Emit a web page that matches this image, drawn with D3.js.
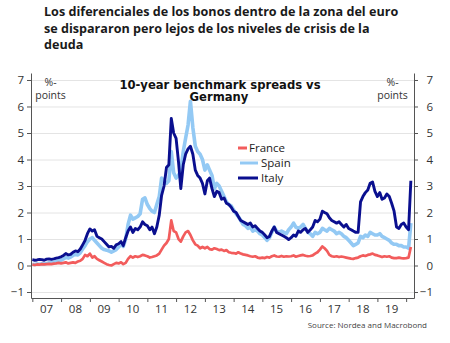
<!DOCTYPE html>
<html>
<head>
<meta charset="utf-8">
<script src="https://cdn.jsdelivr.net/npm/d3@7"></script>
<style>
  body { margin: 0; background: #fff; }
  svg { display: block; font-family: "Open Sans", sans-serif; }
</style>
</head>
<body>
<div id="chart"></div>
<script>
// monthly spreads vs Bunds, Jan 2007 - Mar 2020 (%-points)
var france = [
  0.03,0.02,0.04,0.03,0.05,0.04,0.05,0.06,0.05,0.07,0.08,0.10,
  0.08,0.10,0.12,0.08,0.10,0.12,0.10,0.15,0.18,0.25,0.40,0.35,
  0.45,0.30,0.35,0.25,0.20,0.15,0.10,0.05,0.02,0.00,0.05,0.10,
  0.08,0.12,0.05,0.10,0.25,0.35,0.30,0.35,0.32,0.35,0.40,0.38,
  0.35,0.30,0.32,0.35,0.38,0.45,0.60,0.75,0.85,1.00,1.70,1.30,
  1.25,1.00,0.90,1.10,1.25,1.30,1.15,0.95,0.80,0.75,0.65,0.70,
  0.65,0.70,0.62,0.60,0.65,0.62,0.58,0.60,0.55,0.58,0.50,0.48,
  0.47,0.45,0.50,0.45,0.42,0.40,0.38,0.35,0.33,0.35,0.30,0.28,
  0.30,0.28,0.32,0.30,0.35,0.38,0.34,0.33,0.36,0.33,0.35,0.34,
  0.35,0.38,0.33,0.36,0.38,0.40,0.37,0.35,0.36,0.38,0.45,0.50,
  0.60,0.72,0.65,0.55,0.40,0.35,0.33,0.35,0.32,0.34,0.32,0.30,
  0.28,0.26,0.25,0.28,0.30,0.35,0.38,0.36,0.40,0.42,0.45,0.40,
  0.38,0.35,0.32,0.35,0.33,0.35,0.30,0.28,0.28,0.30,0.28,0.27,
  0.28,0.30,0.70
];
var spain = [
  0.05,0.04,0.06,0.05,0.07,0.06,0.08,0.10,0.12,0.10,0.15,0.18,
  0.20,0.25,0.30,0.28,0.32,0.38,0.42,0.40,0.48,0.62,0.75,0.90,
  1.00,1.05,0.95,0.85,0.75,0.65,0.60,0.58,0.55,0.50,0.55,0.60,
  0.70,0.80,0.72,1.00,1.55,1.90,1.75,1.80,1.85,1.95,2.50,2.55,
  2.30,2.15,2.05,2.00,2.30,2.60,3.30,3.20,3.10,3.20,4.30,3.50,
  3.30,3.40,3.60,4.30,4.80,5.30,6.20,5.20,4.50,4.30,4.20,4.00,
  3.60,3.80,3.60,3.40,2.90,3.10,3.00,2.80,2.60,2.40,2.30,2.25,
  2.10,1.95,1.85,1.70,1.55,1.50,1.40,1.45,1.30,1.35,1.30,1.20,
  1.15,1.05,0.95,1.05,1.25,1.45,1.30,1.25,1.30,1.25,1.20,1.35,
  1.45,1.60,1.45,1.40,1.45,1.55,1.40,1.25,1.20,1.10,1.25,1.20,
  1.25,1.40,1.35,1.30,1.40,1.35,1.30,1.20,1.25,1.20,1.10,1.05,
  0.95,0.85,0.75,0.80,0.85,1.10,1.05,1.15,1.10,1.25,1.20,1.15,
  1.15,1.20,1.10,1.05,1.00,0.95,0.85,0.80,0.80,0.75,0.75,0.70,
  0.70,0.65,1.60
];
var italy = [
  0.22,0.20,0.21,0.23,0.22,0.20,0.24,0.25,0.23,0.25,0.28,0.30,
  0.33,0.38,0.45,0.40,0.42,0.50,0.55,0.52,0.62,0.78,0.95,1.20,
  1.38,1.30,1.35,1.10,1.05,1.00,0.90,0.80,0.70,0.72,0.65,0.78,
  0.82,0.90,0.75,1.05,1.30,1.45,1.25,1.40,1.35,1.45,1.65,1.55,
  1.50,1.35,1.45,1.20,1.45,1.90,2.65,3.00,3.70,3.80,5.55,5.00,
  4.80,3.90,2.90,3.80,4.20,4.40,4.50,4.20,3.60,3.40,3.30,3.10,
  2.70,3.20,3.30,2.90,2.60,2.80,2.75,2.50,2.55,2.35,2.30,2.20,
  2.05,2.00,1.85,1.70,1.65,1.60,1.55,1.60,1.45,1.50,1.40,1.30,
  1.25,1.15,1.05,1.10,1.30,1.45,1.25,1.20,1.15,1.10,1.05,0.98,
  1.05,1.15,1.10,1.30,1.25,1.35,1.40,1.25,1.35,1.45,1.70,1.65,
  1.75,2.05,2.00,1.95,1.80,1.70,1.65,1.60,1.65,1.55,1.45,1.55,
  1.40,1.35,1.30,1.25,1.25,2.40,2.60,2.75,2.85,3.10,3.15,2.80,
  2.60,2.75,2.50,2.55,2.70,2.60,2.35,2.05,1.45,1.40,1.55,1.60,
  1.45,1.35,3.20
];
var yTicks = [-1, 0, 1, 2, 3, 4, 5, 6, 7];
var yearLabels = ["07","08","09","10","11","12","13","14","15","16","17","18","19"];
var seriesColors = { France: "#f25c5c", Spain: "#93c9f4", Italy: "#0a0f8f" };
var seriesWidths = { France: 2.7, Spain: 3.6, Italy: 2.9 };

var width = 450,
  height = 343;

var months = d3.timeMonth.range(new Date(2007, 0, 1), new Date(2020, 3, 1));

var svg = d3.select("#chart")
  .append("svg")
  .attr("width", width)
  .attr("height", height);

var x = d3.scaleTime()
  .domain([new Date(2006, 11, 15), new Date(2020, 3, 10)])
  .range([31, 414]);

var y = d3.scaleLinear()
  .domain([-1.226, 7.264])
  .range([298, 73]);

// headline
var title = svg.append("text")
  .attr("x", 44)
  .attr("font-size", 12.6)
  .attr("font-weight", "bold")
  .attr("fill", "#1a1a1a");
["Los diferenciales de los bonos dentro de la zona del euro",
 "se dispararon pero lejos de los niveles de crisis de la",
 "deuda"].forEach(function(t, i) {
  title.append("tspan").attr("x", 44).attr("y", 16 + i * 16.5).text(t);
});

// grid
svg.append("g")
  .selectAll("line")
  .data(yTicks)
  .enter().append("line")
  .attr("x1", 31)
  .attr("x2", 414)
  .attr("y1", function(d) { return y(d) + 0.5; })
  .attr("y2", function(d) { return y(d) + 0.5; })
  .attr("stroke", "#e4e4e4")
  .attr("stroke-width", 1);

// axes
svg.append("g")
  .attr("transform", "translate(31,0)")
  .call(d3.axisLeft(y).tickValues(yTicks).tickSize(4).tickSizeOuter(0).tickPadding(3).tickFormat(d3.format("d")));
var rightAxis = svg.append("g")
  .attr("transform", "translate(414,0)")
  .call(d3.axisRight(y).tickValues(yTicks).tickSize(4).tickSizeOuter(0).tickPadding(3).tickFormat(d3.format("d")));
rightAxis.selectAll("text").attr("text-anchor", "end").attr("dx", 12);

var yearStarts = d3.range(2007, 2021).map(function(yr) { return new Date(yr, 0, 1); });
svg.append("g")
  .attr("transform", "translate(0,298)")
  .call(d3.axisBottom(x).tickValues(yearStarts).tickSize(4).tickSizeOuter(0).tickFormat(""));

svg.selectAll(".domain").attr("stroke", "#555");
svg.selectAll(".tick line").attr("stroke", "#555");
svg.selectAll(".tick text")
  .attr("font-family", "Open Sans, sans-serif")
  .attr("font-size", 11.5)
  .attr("fill", "#333");

svg.append("g")
  .selectAll("text")
  .data(yearLabels)
  .enter().append("text")
  .attr("x", function(d, i) { return x(new Date(2007 + i, 6, 1)); })
  .attr("y", 313)
  .attr("text-anchor", "middle")
  .attr("font-size", 11.5)
  .attr("fill", "#333")
  .text(function(d) { return d; });

// unit labels
[50.5, 392.5].forEach(function(cx) {
  var t = svg.append("text")
    .attr("text-anchor", "middle")
    .attr("font-size", 10.5)
    .attr("fill", "#333");
  t.append("tspan").attr("x", cx).attr("y", 86).text("%-");
  t.append("tspan").attr("x", cx).attr("y", 99).text("points");
});

// chart title
var sub = svg.append("text")
  .attr("text-anchor", "middle")
  .attr("font-family", "DejaVu Sans, Verdana, sans-serif")
  .attr("font-size", 11.6)
  .attr("font-weight", "bold")
  .attr("fill", "#111");
sub.append("tspan").attr("x", 220).attr("y", 88.5).text("10-year benchmark spreads vs");
sub.append("tspan").attr("x", 219).attr("y", 101).text("Germany");

// lines
var line = d3.line()
  .x(function(d) { return x(d.date); })
  .y(function(d) { return y(d.value); });

var series = {
  France: france,
  Spain: spain,
  Italy: italy
};

["Spain", "Italy", "France"].forEach(function(name) {
  var pts = series[name].map(function(v, i) { return { date: months[i], value: v }; });
  svg.append("path")
    .datum(pts)
    .attr("fill", "none")
    .attr("stroke", seriesColors[name])
    .attr("stroke-width", seriesWidths[name])
    .attr("stroke-linejoin", "round")
    .attr("d", line);
});

// legend
var legend = svg.append("g");
var legendRows = [
  { name: "France", x1: 238, x2: 247, y: 148, tx: 249 },
  { name: "Spain", x1: 240, x2: 258, y: 163, tx: 261 },
  { name: "Italy", x1: 238, x2: 258, y: 178, tx: 261 }
];
legendRows.forEach(function(r) {
  legend.append("line")
    .attr("x1", r.x1).attr("x2", r.x2)
    .attr("y1", r.y).attr("y2", r.y)
    .attr("stroke", seriesColors[r.name])
    .attr("stroke-width", 3);
  legend.append("text")
    .attr("x", r.tx)
    .attr("y", r.y + 4)
    .attr("font-size", 11.5)
    .attr("fill", "#222")
    .text(r.name);
});

svg.append("text")
  .attr("x", 427)
  .attr("y", 328)
  .attr("text-anchor", "end")
  .attr("font-size", 8)
  .attr("fill", "#444")
  .text("Source: Nordea and Macrobond");
</script>
</body>
</html>
